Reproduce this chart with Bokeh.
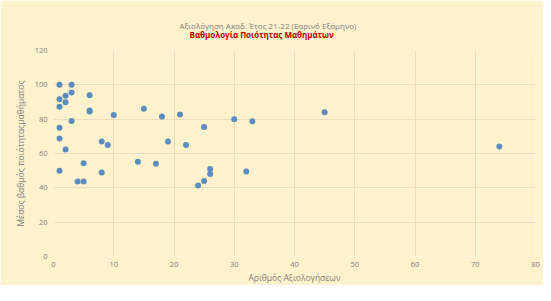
from bokeh.plotting import figure
from bokeh.models import Range1d, FixedTicker, Title
from bokeh.embed import file_html
from bokeh.resources import INLINE

# Data
evaluations = [1, 3, 3, 1, 2, 2, 1, 6, 6, 6, 3, 10, 1, 1, 2, 8, 9, 1, 5, 4,
               5, 8, 15, 18, 21, 14, 17, 19, 22, 25, 26, 26, 25, 24, 30, 33,
               45, 74, 32]
scores = [100, 100, 95.5, 91.6, 93.7, 89.8, 87.2, 94, 85, 84.5, 79, 82.4, 75,
          68.8, 62.3, 67, 65, 50, 54.3, 43.7, 43.7, 48.9, 86, 81.6, 82.7, 55.2,
          54.1, 67, 64.9, 75.5, 51, 48, 44, 41.3, 80, 78.8, 84, 64.1, 49.5]
x_ticks = [0, 10, 20, 30, 40, 50, 60, 70, 80]
y_ticks = [0, 20, 40, 60, 80, 100, 120]

title_text = "Αξιολόγηση Ακαδ. Έτος 21-22 (Εαρινό Εξάμηνο)"
subtitle_text = "Βαθμολογία Ποιότητας  Μαθημάτων"
x_label = "Αριθμός Αξιολογήσεων"
y_label = "Μέσος βαθμός ποιότηταςμαθήματος"

FONT = "Open Sans"
BG = "#FFF2CC"
GRID = "#E8DDBF"
TXT = "#808080"

p = figure(width=543, height=285, output_backend="svg", toolbar_location=None,
           x_range=Range1d(0, 80), y_range=Range1d(0, 120),
           min_border_left=53, min_border_right=8, min_border_top=50,
           min_border_bottom=27)
p.background_fill_color = BG
p.border_fill_color = BG
p.outline_line_color = None

# main title (outer panel)
p.title.text = title_text
p.title.text_font = FONT
p.title.text_font_size = "8px"
p.title.text_font_style = "normal"
p.title.text_color = TXT
p.title.align = "left"
p.title.offset = 126
p.title.standoff = -30

# subtitle (panel nearest the frame)
p.add_layout(Title(text=subtitle_text, text_font=FONT, text_font_size="8px",
                   text_font_style="bold", text_color="#C00000", align="left",
                   offset=136, standoff=22), "above")

p.xaxis.ticker = FixedTicker(ticks=x_ticks)
p.yaxis.ticker = FixedTicker(ticks=y_ticks)
for ax in (p.xaxis, p.yaxis):
    ax.axis_line_color = None
    ax.major_tick_line_color = None
    ax.minor_tick_line_color = None
    ax.major_tick_out = 0
    ax.major_tick_in = 0
    ax.minor_tick_out = 0
    ax.minor_tick_in = 0
    ax.major_label_text_font = FONT
    ax.major_label_text_font_size = "7.5px"
    ax.major_label_text_color = TXT
    ax.axis_label_text_font = FONT
    ax.axis_label_text_font_size = "8.5px"
    ax.axis_label_text_font_style = "normal"
    ax.axis_label_text_color = TXT
p.xaxis.axis_label = x_label
p.yaxis.axis_label = y_label
p.xaxis.major_label_standoff = 5
p.xaxis.axis_label_standoff = 2
p.yaxis.major_label_standoff = 6
p.yaxis.axis_label_standoff = 6

p.xgrid.ticker = FixedTicker(ticks=x_ticks)
p.ygrid.ticker = FixedTicker(ticks=y_ticks)
p.grid.grid_line_color = GRID
p.grid.grid_line_width = 1

p.scatter(evaluations, scores, size=6, color="#5B8DBE", line_color=None)

open("out.html", "w").write(file_html(p, INLINE))
